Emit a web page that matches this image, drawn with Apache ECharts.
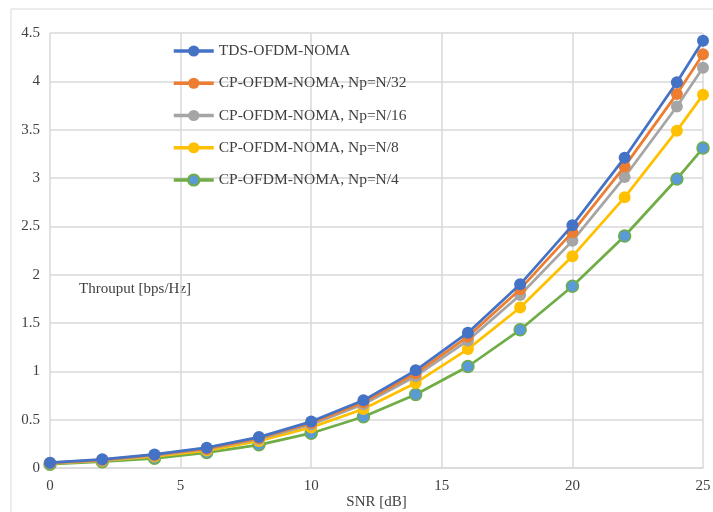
<!DOCTYPE html>
<html><head><meta charset="utf-8">
<script src="https://cdn.jsdelivr.net/npm/echarts@6/dist/echarts.min.js"></script>
<style>html,body{margin:0;padding:0;background:#fff}#c{width:713px;height:512px}</style>
</head><body><div id="c"></div>
<script>
const snr = [0, 2, 4, 6, 8, 10, 12, 14, 16, 18, 20, 22, 24, 25];
const tds = [0.055, 0.09, 0.14, 0.21, 0.32, 0.48, 0.70, 1.01, 1.40, 1.90, 2.51, 3.21, 3.99, 4.42];
const cp32 = [0.053, 0.085, 0.135, 0.20, 0.31, 0.465, 0.68, 0.98, 1.36, 1.85, 2.44, 3.12, 3.87, 4.28];
const cp16 = [0.05, 0.08, 0.13, 0.195, 0.30, 0.45, 0.66, 0.95, 1.32, 1.79, 2.35, 3.01, 3.74, 4.14];
const cp8 = [0.048, 0.075, 0.12, 0.18, 0.28, 0.42, 0.61, 0.88, 1.23, 1.66, 2.19, 2.80, 3.49, 3.86];
const cp4 = [0.04, 0.065, 0.10, 0.16, 0.24, 0.36, 0.53, 0.76, 1.05, 1.43, 1.88, 2.40, 2.99, 3.31];
const names = ['TDS-OFDM-NOMA', 'CP-OFDM-NOMA, Np=N/32', 'CP-OFDM-NOMA, Np=N/16', 'CP-OFDM-NOMA, Np=N/8', 'CP-OFDM-NOMA, Np=N/4'];
const values = [tds, cp32, cp16, cp8, cp4];
const lineColors = ['#4472C4', '#ED7D31', '#A5A5A5', '#FFC000', '#70AD47'];
const markerColors = ['#4472C4', '#ED7D31', '#A5A5A5', '#FFC000', '#5B9BD5'];
const yTicks = [0, 0.5, 1, 1.5, 2, 2.5, 3, 3.5, 4, 4.5];

const font = '"Liberation Serif", "DejaVu Serif", serif';
const chart = echarts.init(document.getElementById('c'), null, {renderer: 'canvas'});
chart.setOption({
  animation: false,
  backgroundColor: '#fff',
  textStyle: {fontFamily: font},
  graphic: [
    {type: 'rect', shape: {x: 11, y: 9, width: 720, height: 520}, style: {fill: 'none', stroke: '#d9d9d9', lineWidth: 1}, z: -10},
    {type: 'text', left: 79, top: 282, style: {text: 'Throuput [bps/Hz]', font: '15px ' + font, fill: '#404040'}}
  ],
  grid: {left: 50, right: 10, top: 33, bottom: 44, outerBoundsMode: 'none', containLabel: false},
  legend: {
    orient: 'vertical', left: 167, top: 38, itemWidth: 40, itemHeight: 14, itemGap: 16.25,
    lineStyle: {width: 3.5},
    textStyle: {fontFamily: font, fontSize: 15.5, color: '#404040'},
    data: names
  },
  xAxis: {
    type: 'value', min: 0, max: 25, interval: 5,
    name: 'SNR [dB]', nameLocation: 'middle', nameGap: 27, nameMoveOverlap: false,
    nameTextStyle: {fontFamily: font, fontSize: 15, color: '#404040'},
    axisLine: {show: true, lineStyle: {color: '#d9d9d9', width: 1.5}},
    axisTick: {show: false},
    axisLabel: {fontFamily: font, fontSize: 15, color: '#404040', margin: 11},
    splitLine: {show: true, lineStyle: {color: '#d9d9d9', width: 1.5}}
  },
  yAxis: {
    type: 'value', min: 0, max: 4.5, interval: 0.5,
    axisLine: {show: false}, axisTick: {show: false},
    axisLabel: {fontFamily: font, fontSize: 15, color: '#404040', margin: 10,
      formatter: v => { const t = yTicks.find(x => Math.abs(x - v) < 1e-9); return t === undefined ? '' : String(t); }},
    splitLine: {show: true, lineStyle: {color: '#d9d9d9', width: 1.5}}
  },
  series: names.map((n, i) => ({
    name: n, type: 'line',
    data: snr.map((x, j) => [x, values[i][j]]),
    symbol: 'circle', symbolSize: 12,
    lineStyle: {color: lineColors[i], width: 2.75},
    itemStyle: {color: markerColors[i], borderColor: lineColors[i], borderWidth: i === 4 ? 1.5 : 0},
    z: 10 - i
  }))
});
</script></body></html>
